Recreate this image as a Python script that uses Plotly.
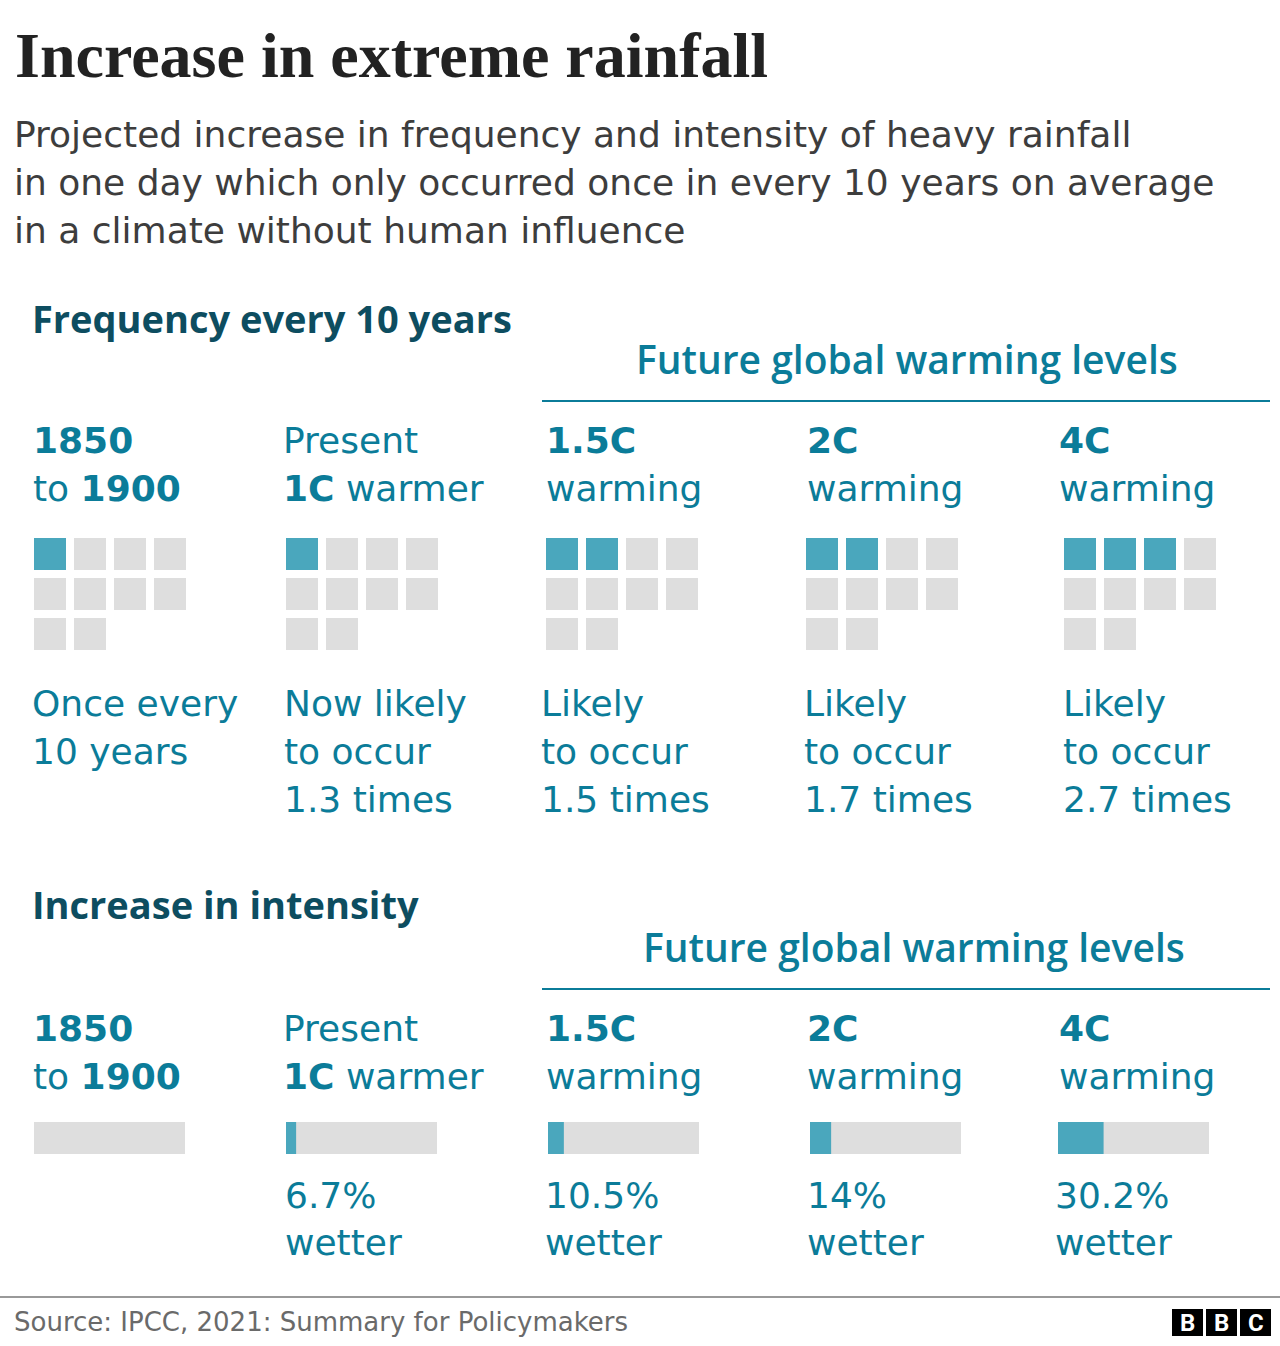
import plotly.graph_objects as go

# ---------------- data ----------------
col_line1 = ["<b>1850</b>", "Present", "<b>1.5C</b>", "<b>2C</b>", "<b>4C</b>"]
col_line2 = ["to <b>1900</b>", "<b>1C</b> warmer", "warming", "warming", "warming"]
freq_times = [1.0, 1.3, 1.5, 1.7, 2.7]
filled_squares = [1, 1, 2, 2, 3]
total_squares = 10
freq_desc_first = [["Once every", "10 years"], ["Now likely", "to occur"],
                   ["Likely", "to occur"], ["Likely", "to occur"], ["Likely", "to occur"]]
intensity_pct = [0, 6.7, 10.5, 14, 30.2]

title = "Increase in extreme rainfall"
subtitle = ["Projected increase in frequency and intensity of heavy rainfall",
            "in one day which only occurred once in every 10 years on average",
            "in a climate without human influence"]
source = "Source: IPCC, 2021: Summary for Policymakers"

# ---------------- layout constants ----------------
W, H = 1280, 1346
label_x = [31, 281, 544, 805, 1057]
desc_x = [30, 282, 539, 802, 1061]
pct_x = [0, 283, 543, 805, 1053]
waffle_x = [34, 286, 546, 806, 1064]
bar_x = [34, 286, 548, 810, 1058]
SQ, PITCH = 32, 40
waffle_top = 538
bar_len = 151
bar_yc = 1138

TEAL = "#0b7c99"
DARK = "#0d4d60"
SQ_TEAL = "#4aa7bd"
GREY = "#dedede"
SANS = "DejaVu Sans"
HEAD = "Open Sans"

fig = go.Figure()

# waffle squares
xs, ys, cs = [], [], []
for i, x0 in enumerate(waffle_x):
    for k in range(total_squares):
        r, c = divmod(k, 4)
        xs.append(x0 + c * PITCH + SQ / 2)
        ys.append(waffle_top + r * PITCH + SQ / 2)
        cs.append(SQ_TEAL if k < filled_squares[i] else GREY)
fig.add_trace(go.Scatter(x=xs, y=ys, mode="markers",
                         marker=dict(symbol="square", size=SQ, color=cs, line=dict(width=0)),
                         hoverinfo="skip", showlegend=False))

# intensity bars
fig.add_trace(go.Bar(orientation="h", y=[bar_yc] * 5, x=[bar_len] * 5, base=bar_x,
                     width=32, marker=dict(color=GREY, line=dict(width=0)),
                     hoverinfo="skip", showlegend=False))
fig.add_trace(go.Bar(orientation="h", y=[bar_yc] * 5,
                     x=[p / 100 * bar_len for p in intensity_pct], base=bar_x,
                     width=32, marker=dict(color=SQ_TEAL, line=dict(width=0)),
                     hoverinfo="skip", showlegend=False))

ann = []


def txt(x, y, s, size=36, color=TEAL, family=SANS, xanchor="left", weight=None):
    f = dict(size=size, color=color, family=family)
    if weight:
        f["weight"] = weight
    ann.append(dict(x=x, y=y, xref="x", yref="y", text=s, showarrow=False,
                    xanchor=xanchor, yanchor="middle", font=f, align="left"))


txt(13, 55, title, size=64, color="#222222", family="Liberation Serif", weight="bold")
for j, line in enumerate(subtitle):
    txt(12, 134 + 48 * j, line, size=36, color="#3d3d3d")

for block, y0 in (("freq", 0), ("int", 588)):
    head = "Frequency every 10 years" if block == "freq" else "Increase in intensity"
    txt(30, 318 + y0 - (2 if block == "int" else 0), head, size=38, color=DARK,
        family=HEAD, weight="bold")
    txt(907 + (7 if block == "int" else 0), 358 + y0, "Future global warming levels",
        size=39, color=TEAL, family=HEAD, xanchor="center", weight=600)
    for i in range(5):
        txt(label_x[i], 440 + y0, col_line1[i])
        txt(label_x[i], 488 + y0, col_line2[i])

# frequency descriptions
for i in range(5):
    lines = list(freq_desc_first[i])
    if i > 0:
        lines.append(f"{freq_times[i]:g} times")
    for j, l in enumerate(lines):
        txt(desc_x[i], 703 + 48 * j, l)

# intensity labels
for i in range(1, 5):
    txt(pct_x[i], 1195, f"{intensity_pct[i]:g}%")
    txt(pct_x[i], 1242, "wetter")

txt(12, 1322, source, size=26, color="#6a6a6a")

shapes = [
    dict(type="line", xref="x", yref="y", x0=542, x1=1270, y0=401, y1=401,
         line=dict(color=TEAL, width=2)),
    dict(type="line", xref="x", yref="y", x0=542, x1=1270, y0=989, y1=989,
         line=dict(color=TEAL, width=2)),
    dict(type="line", xref="x", yref="y", x0=0, x1=W, y0=1297, y1=1297,
         line=dict(color="#999999", width=2)),
]
for k, letter in enumerate("BBC"):
    bx = 1172 + k * 34
    shapes.append(dict(type="rect", xref="x", yref="y", x0=bx, x1=bx + 31, y0=1309, y1=1336,
                       fillcolor="black", line=dict(width=0)))
    ann.append(dict(x=bx + 15.5, y=1323, xref="x", yref="y", text=f"<b>{letter}</b>",
                    showarrow=False, xanchor="center", yanchor="middle",
                    font=dict(size=24, color="white", family="Roboto")))

fig.update_layout(
    width=W, height=H, margin=dict(l=0, r=0, t=0, b=0),
    paper_bgcolor="white", plot_bgcolor="white",
    xaxis=dict(range=[0, W], visible=False, fixedrange=True),
    yaxis=dict(range=[H, 0], visible=False, fixedrange=True),
    barmode="overlay", annotations=ann, shapes=shapes, showlegend=False,
)
fig.write_html("out.html")
